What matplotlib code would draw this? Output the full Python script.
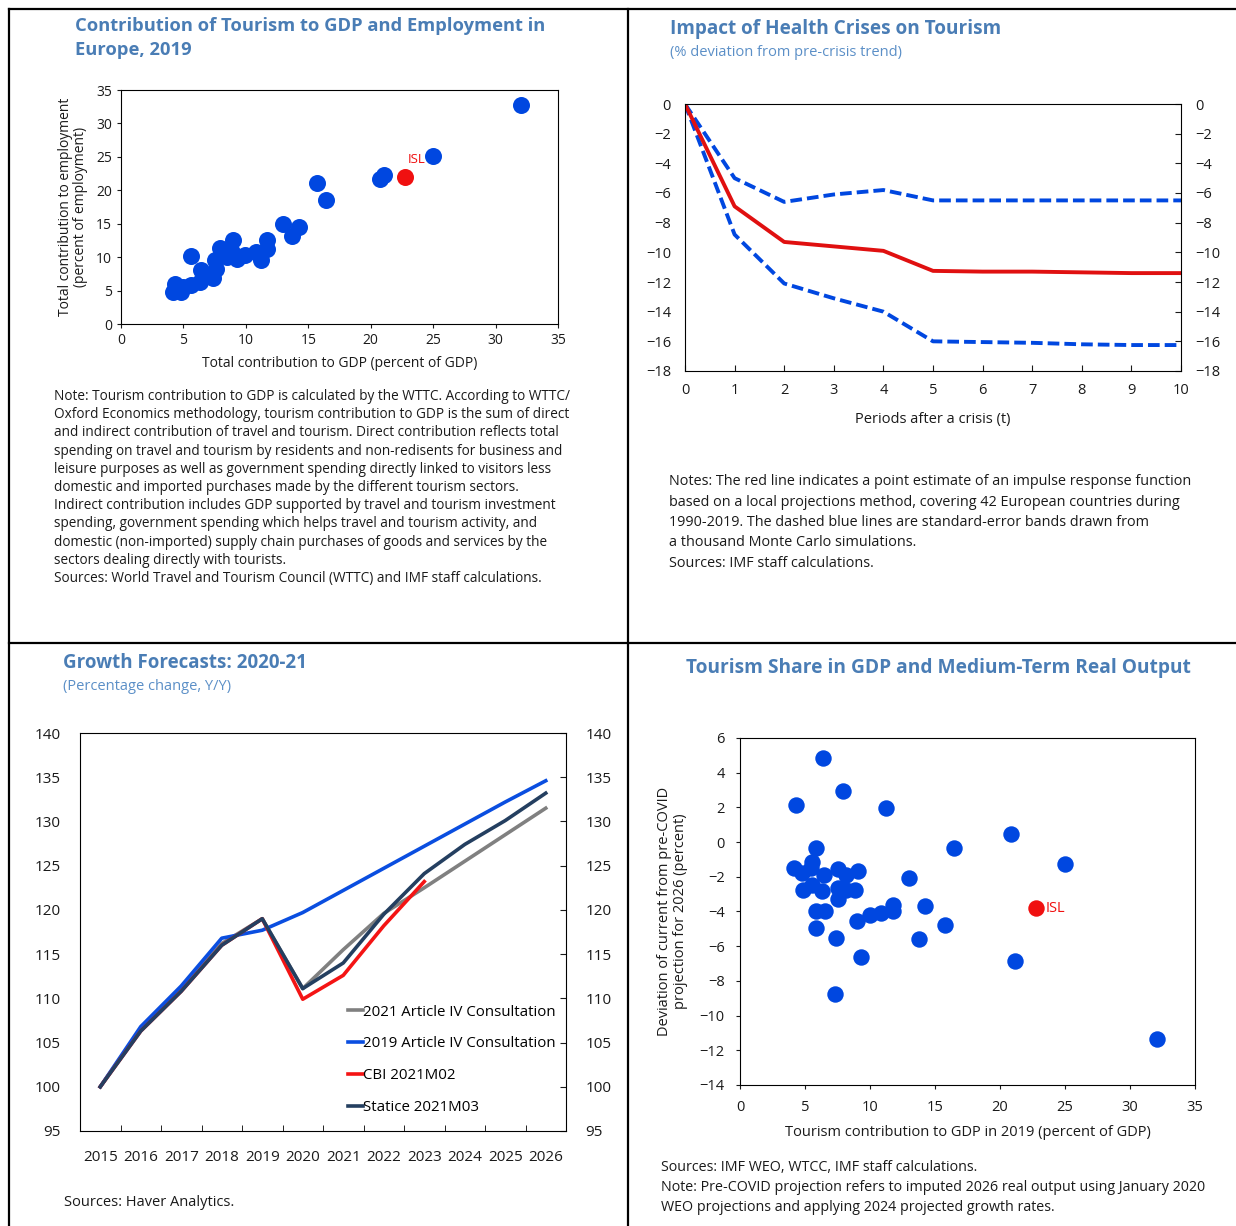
import matplotlib
matplotlib.use("Agg")
import matplotlib.pyplot as plt
from matplotlib.lines import Line2D
import numpy as np

plt.rcParams["font.family"] = ["Open Sans", "DejaVu Sans"]

# ----------------------
# data
# ----------------------
# chart 1: tourism share in GDP vs employment, 2019
gdp_share = [32.05, 25.0, 21.07, 20.75, 15.7, 16.45, 13.0, 14.25, 13.72,
             11.73, 11.73, 11.2, 10.8, 9.9, 9.0, 7.9, 8.5, 9.3, 7.5, 7.6,
             7.35, 6.4, 5.6, 6.3, 5.6, 4.95, 4.3, 4.15, 4.8, 8.25, 8.9, 7.0]
emp_share = [32.75, 25.1, 22.25, 21.7, 21.05, 18.6, 14.9, 14.55, 13.1,
             12.55, 11.2, 9.5, 10.75, 10.3, 12.5, 11.3, 9.95, 9.65, 9.6, 8.3,
             6.85, 8.1, 10.1, 6.3, 5.85, 5.6, 6.05, 4.85, 4.85, 11.05, 10.8, 7.2]
isl_gdp = 22.75
isl_emp = 21.95

# chart 2: impulse response of tourism to health crises
periods = np.arange(0, 11)
irf_point = [0, -6.9, -9.3, -9.6, -9.9, -11.25, -11.3, -11.3, -11.35, -11.4, -11.4]
irf_upper = [0, -5.0, -6.6, -6.1, -5.8, -6.5, -6.5, -6.5, -6.5, -6.5, -6.5]
irf_lower = [0, -8.8, -12.1, -13.1, -14.0, -16.0, -16.05, -16.1, -16.2, -16.25, -16.25]

# chart 3: growth forecasts (index, 2015 = 100)
years = ["2015", "2016", "2017", "2018", "2019", "2020",
         "2021", "2022", "2023", "2024", "2025", "2026"]
art4_2021 = [100, 106.5, 111.0, 116.2, 119.0, 111.1, 115.5, 119.6, 122.5, 125.5, 128.5, 131.5]
art4_2019 = [100, 106.8, 111.4, 116.8, 117.7, 119.7, 122.2, 124.7, 127.2, 129.7, 132.2, 134.6]
cbi_2021m02 = [100, 106.3, 110.8, 116.0, 119.0, 109.9, 112.6, 118.2, 123.2]
statice_2021m03 = [100, 106.3, 110.8, 116.0, 119.0, 111.1, 114.0, 119.5, 124.1, 127.4, 130.1, 133.2]

# chart 4: tourism share vs deviation from pre-COVID projection
share_2019 = [6.4, 7.9, 4.27, 11.25, 20.88, 16.49, 25.0, 5.85, 13.02, 14.26,
              15.77, 13.76, 9.32, 21.15, 7.28, 32.1, 7.42, 5.85, 5.85, 6.54,
              9.02, 9.98, 10.86, 11.78, 11.78, 4.19, 4.74, 5.57, 5.43, 6.48,
              4.88, 5.57, 6.32, 7.5, 8.19, 9.05, 7.5, 7.5, 8.19, 8.88]
deviation_2026 = [4.85, 2.95, 2.13, 1.94, 0.44, -0.32, -1.26, -0.36, -2.05, -3.66,
                  -4.77, -5.59, -6.6, -6.87, -8.73, -11.32, -5.54, -4.96, -4.0, -3.96,
                  -4.55, -4.2, -4.06, -3.62, -3.95, -1.51, -1.8, -1.13, -1.51, -1.89,
                  -2.75, -2.46, -2.79, -1.57, -1.87, -1.66, -2.66, -3.27, -2.75, -2.75]
isl_share = 22.75
isl_dev = -3.81

# ----------------------
# layout helpers (pixel coordinates of the 1236x1226 canvas)
# ----------------------
W, H = 1236, 1226
fig = plt.figure(figsize=(W / 100, H / 100), dpi=100)

def box(left, top, right, bottom):
    return [left / W, 1 - bottom / H, (right - left) / W, (bottom - top) / H]

def ftext(x, y, s, **kw):
    fig.text(x / W, 1 - y / H, s, **kw)

TITLE = "#4a7db5"
SUB = "#5b8fc7"
BLUE = "#0047e0"
RED = "#f01010"
TXT = "#1a1a1a"

# panel frame lines
for xs, ys in [([9, 1236], [9, 9]), ([9, 9], [9, 1226]),
               ([628, 628], [9, 1226]), ([9, 1236], [643, 643])]:
    fig.add_artist(Line2D([x / W for x in xs], [1 - y / H for y in ys],
                          color="black", lw=1.6))

# ----------------------
# chart 1
# ----------------------
ftext(75, 38, "Contribution of Tourism to GDP and Employment in\nEurope, 2019",
      fontsize=13.2, fontweight="bold", color=TITLE, va="center",
      linespacing=1.45)
ax1 = fig.add_axes(box(121, 90, 558, 324))
ax1.scatter(gdp_share, emp_share, s=150, color=BLUE, zorder=3, linewidths=0)
ax1.scatter([isl_gdp], [isl_emp], s=150, color=RED, zorder=4, linewidths=0)
ax1.annotate("ISL", (isl_gdp, isl_emp), xytext=(2, 8), textcoords="offset points",
             color=RED, fontsize=9.5, ha="left", va="bottom")
ax1.set_xlim(0, 35)
ax1.set_ylim(0, 35)
ax1.set_xticks(np.arange(0, 36, 5))
ax1.set_yticks(np.arange(0, 36, 5))
ax1.tick_params(labelsize=10, colors=TXT, length=3)
ax1.set_xlabel("Total contribution to GDP (percent of GDP)", fontsize=10, color=TXT, labelpad=6)
ax1.set_ylabel("Total contribution to employment\n(percent of employment)",
               fontsize=10, color=TXT, labelpad=6, linespacing=1.0)
note1 = ("Note: Tourism contribution to GDP is calculated by the WTTC. According to WTTC/\n"
         "Oxford Economics methodology, tourism contribution to GDP is the sum of direct\n"
         "and indirect contribution of travel and tourism. Direct contribution reflects total\n"
         "spending on travel and tourism by residents and non-redisents for business and\n"
         "leisure purposes as well as government spending directly linked to visitors less\n"
         "domestic and imported purchases made by the different tourism sectors.\n"
         "Indirect contribution includes GDP supported by travel and tourism investment\n"
         "spending, government spending which helps travel and tourism activity, and\n"
         "domestic (non-imported) supply chain purchases of goods and services by the\n"
         "sectors dealing directly with tourists.\n"
         "Sources: World Travel and Tourism Council (WTTC) and IMF staff calculations.")
ftext(54, 389, note1, fontsize=9.8, color=TXT, va="top", linespacing=1.29)

# ----------------------
# chart 2
# ----------------------
ftext(670, 29, "Impact of Health Crises on Tourism", fontsize=13.7,
      fontweight="bold", color=TITLE, va="center")
ftext(670, 52, "(% deviation from pre-crisis trend)", fontsize=10.5,
      color=SUB, va="center")
ax2 = fig.add_axes(box(685, 104, 1181, 371))
ax2.plot(periods, irf_upper, color=BLUE, lw=2.8, linestyle=(0, (3, 1.3)))
ax2.plot(periods, irf_lower, color=BLUE, lw=2.8, linestyle=(0, (3, 1.3)))
ax2.plot(periods, irf_point, color="#e01010", lw=2.8)
ax2.set_xlim(0, 10)
ax2.set_ylim(-18, 0)
ax2.set_xticks(periods)
ax2.set_yticks(np.arange(-18, 1, 2))
ax2.tick_params(axis="x", direction="in", length=4, labelsize=10.5, colors=TXT, pad=9)
ax2.tick_params(axis="y", left=False, right=True, labelleft=True, labelright=True,
                direction="in", length=4, labelsize=10.5, colors=TXT, pad=10)
ax2.set_xlabel("Periods after a crisis (t)", fontsize=10.5, color=TXT, labelpad=10)
note2 = ("Notes: The red line indicates a point estimate of an impulse response function\n"
         "based on a local projections method, covering 42 European countries during\n"
         "1990-2019. The dashed blue lines are standard-error bands drawn from\n"
         "a thousand Monte Carlo simulations.\n"
         "Sources: IMF staff calculations.")
ftext(669, 474, note2, fontsize=10.4, color=TXT, va="top", linespacing=1.5)

# ----------------------
# chart 3
# ----------------------
ftext(63, 663, "Growth Forecasts: 2020-21", fontsize=13.5, fontweight="bold",
      color=TITLE, va="center")
ftext(63, 686, "(Percentage change, Y/Y)", fontsize=10.5, color=SUB, va="center")
ax3 = fig.add_axes(box(80, 733, 566, 1131))
xi = np.arange(len(years))
ax3.plot(xi, art4_2021, color="#808080", lw=2.6, label="2021 Article IV Consultation")
ax3.plot(xi, art4_2019, color="#0a4ee0", lw=2.6, label="2019 Article IV Consultation")
ax3.plot(xi[:len(cbi_2021m02)], cbi_2021m02, color="#f41414", lw=2.6, label="CBI 2021M02")
ax3.plot(xi, statice_2021m03, color="#243f60", lw=2.6, label="Statice 2021M03")
ax3.set_xlim(-0.5, len(years) - 0.5)
ax3.set_ylim(95, 140)
ax3.set_xticks(xi)
ax3.set_xticklabels(years)
ax3.set_xticks(xi[:-1] + 0.5, minor=True)
ax3.set_yticks(np.arange(95, 141, 5))
ax3.tick_params(axis="x", which="major", length=0, labelsize=11, colors=TXT, pad=14)
ax3.tick_params(axis="x", which="minor", direction="in", length=4)
ax3.tick_params(axis="y", left=False, right=True, labelleft=True, labelright=True,
                direction="in", length=4, labelsize=11, colors=TXT, pad=14)
ax3.legend(loc="lower right", bbox_to_anchor=(0.992, 0.025), frameon=False,
           fontsize=10.8, handlelength=1.0, handletextpad=0.0, labelspacing=1.12,
           borderaxespad=0.0)
ftext(64, 1202, "Sources: Haver Analytics.", fontsize=10.5, color=TXT, va="center")

# ----------------------
# chart 4
# ----------------------
ftext(938, 668, "Tourism Share in GDP and Medium-Term Real Output", fontsize=13.8,
      fontweight="bold", color=TITLE, va="center", ha="center")
ax4 = fig.add_axes(box(740, 738, 1195, 1085))
ax4.scatter(share_2019, deviation_2026, s=140, color=BLUE, zorder=3, linewidths=0)
ax4.scatter([isl_share], [isl_dev], s=140, color=RED, zorder=4, linewidths=0)
ax4.annotate("ISL", (isl_share, isl_dev), xytext=(7, 0), textcoords="offset points",
             color=RED, fontsize=10.5, ha="left", va="center")
ax4.set_xlim(0, 35)
ax4.set_ylim(-14, 6)
ax4.set_xticks(np.arange(0, 36, 5))
ax4.set_yticks(np.arange(-14, 7, 2))
ax4.tick_params(labelsize=10.5, colors=TXT, length=3, pad=8)
ax4.set_xlabel("Tourism contribution to GDP in 2019 (percent of GDP)", fontsize=10.5,
               color=TXT, labelpad=7)
ax4.set_ylabel("Deviation of current from pre-COVID\nprojection for 2026 (percent)",
               fontsize=10.5, color=TXT, labelpad=8, linespacing=1.1)
note4 = ("Sources: IMF WEO, WTCC, IMF staff calculations.\n"
         "Note: Pre-COVID projection refers to imputed 2026 real output using January 2020\n"
         "WEO projections and applying 2024 projected growth rates.")
ftext(661, 1160, note4, fontsize=10.3, color=TXT, va="top", linespacing=1.45)

plt.savefig("out.png", dpi=100)
plt.close()
